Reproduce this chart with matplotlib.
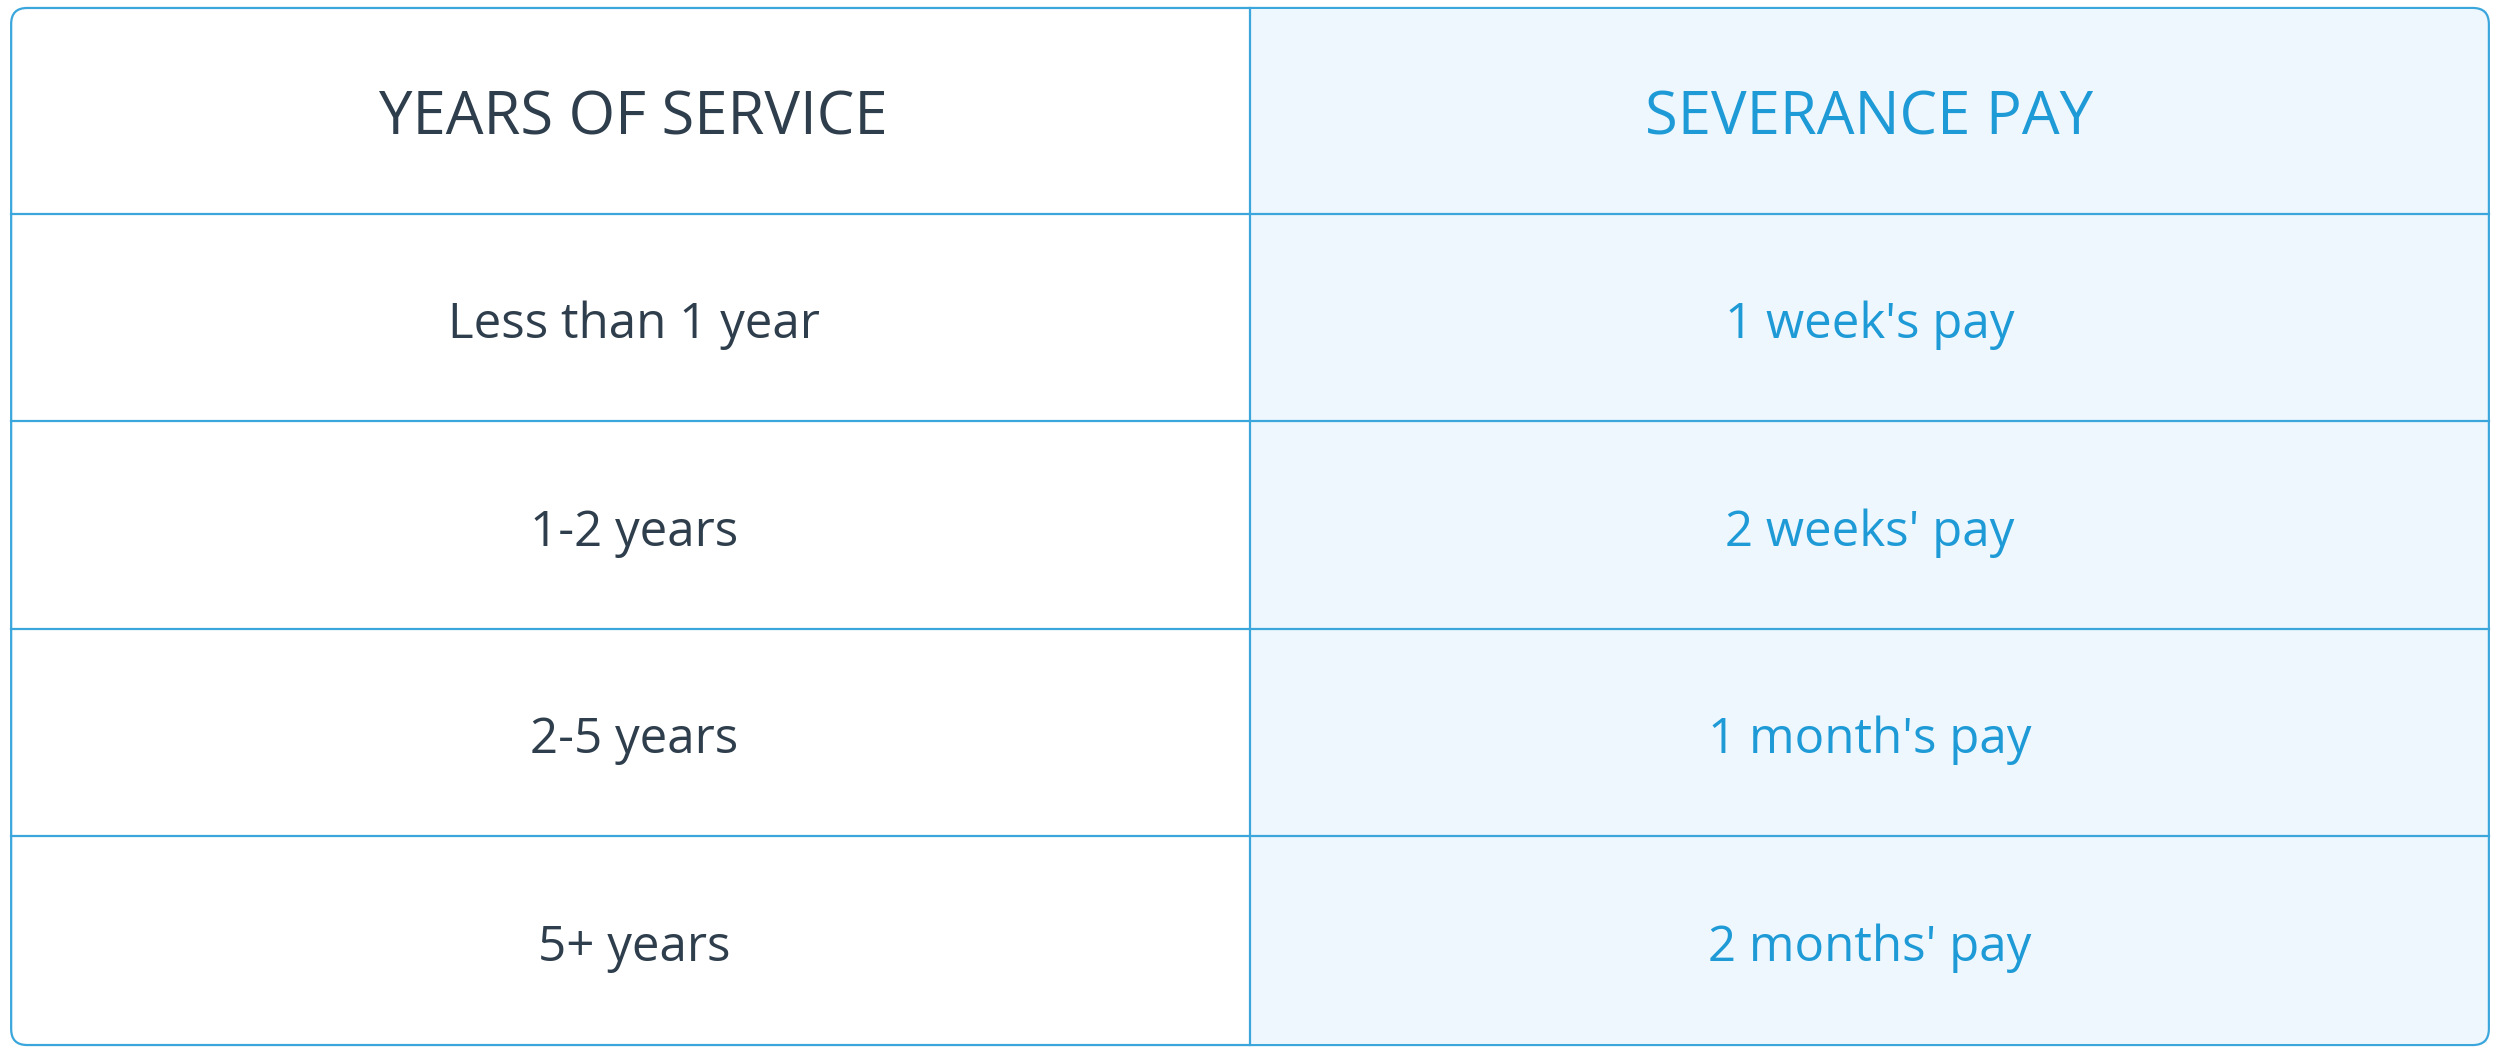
import matplotlib
matplotlib.use("Agg")
import matplotlib.pyplot as plt
from matplotlib.patches import FancyBboxPatch, Rectangle

header = ["YEARS OF SERVICE", "SEVERANCE PAY"]
years = ["Less than 1 year", "1-2 years", "2-5 years", "5+ years"]
pay = ["1 week's pay", "2 weeks' pay", "1 month's pay", "2 months' pay"]

W, H = 1568, 660
fig = plt.figure(figsize=(25, 10.53), dpi=100)
ax = fig.add_axes([0, 0, 1, 1])
ax.set_xlim(0, W); ax.set_ylim(H, 0); ax.axis("off")

blue = "#1E9AD6"; dark = "#2F3E4C"; line = "#3AA6DC"; fill = "#EEF7FD"
L, R, T, B, M = 7, 1561, 5, 655, 784
rows = [T, 134, 264, 394, 524, B]

ax.add_patch(Rectangle((M, T + 1), R - M - 1, B - T - 2, facecolor=fill, edgecolor="none", zorder=1))
ax.add_patch(FancyBboxPatch((L, T), R - L, B - T, boxstyle="round,pad=0,rounding_size=10",
                            facecolor="none", edgecolor=line, lw=1.6, zorder=3))
ax.plot([M, M], [T, B], color=line, lw=1.6, zorder=2)
for y in rows[1:-1]:
    ax.plot([L, R], [y, y], color=line, lw=1.6, zorder=2)

cx = [(L + M) / 2 + 2, (M + R) / 2]
font = "Open Sans"
for i, h in enumerate(header):
    ax.text(cx[i], (rows[0] + rows[1]) / 2 + 5, h, ha="center", va="center", fontsize=43,
            color=dark if i == 0 else blue, family=font, zorder=4)
for r in range(len(years)):
    yc = (rows[r + 1] + rows[r + 2]) / 2 + 5
    ax.text(cx[0], yc, years[r], ha="center", va="center", fontsize=35.5, color=dark, family=font, zorder=4)
    ax.text(cx[1], yc, pay[r], ha="center", va="center", fontsize=35.5, color=blue, family=font, zorder=4)

fig.savefig("out.png", dpi=100, facecolor="white")
